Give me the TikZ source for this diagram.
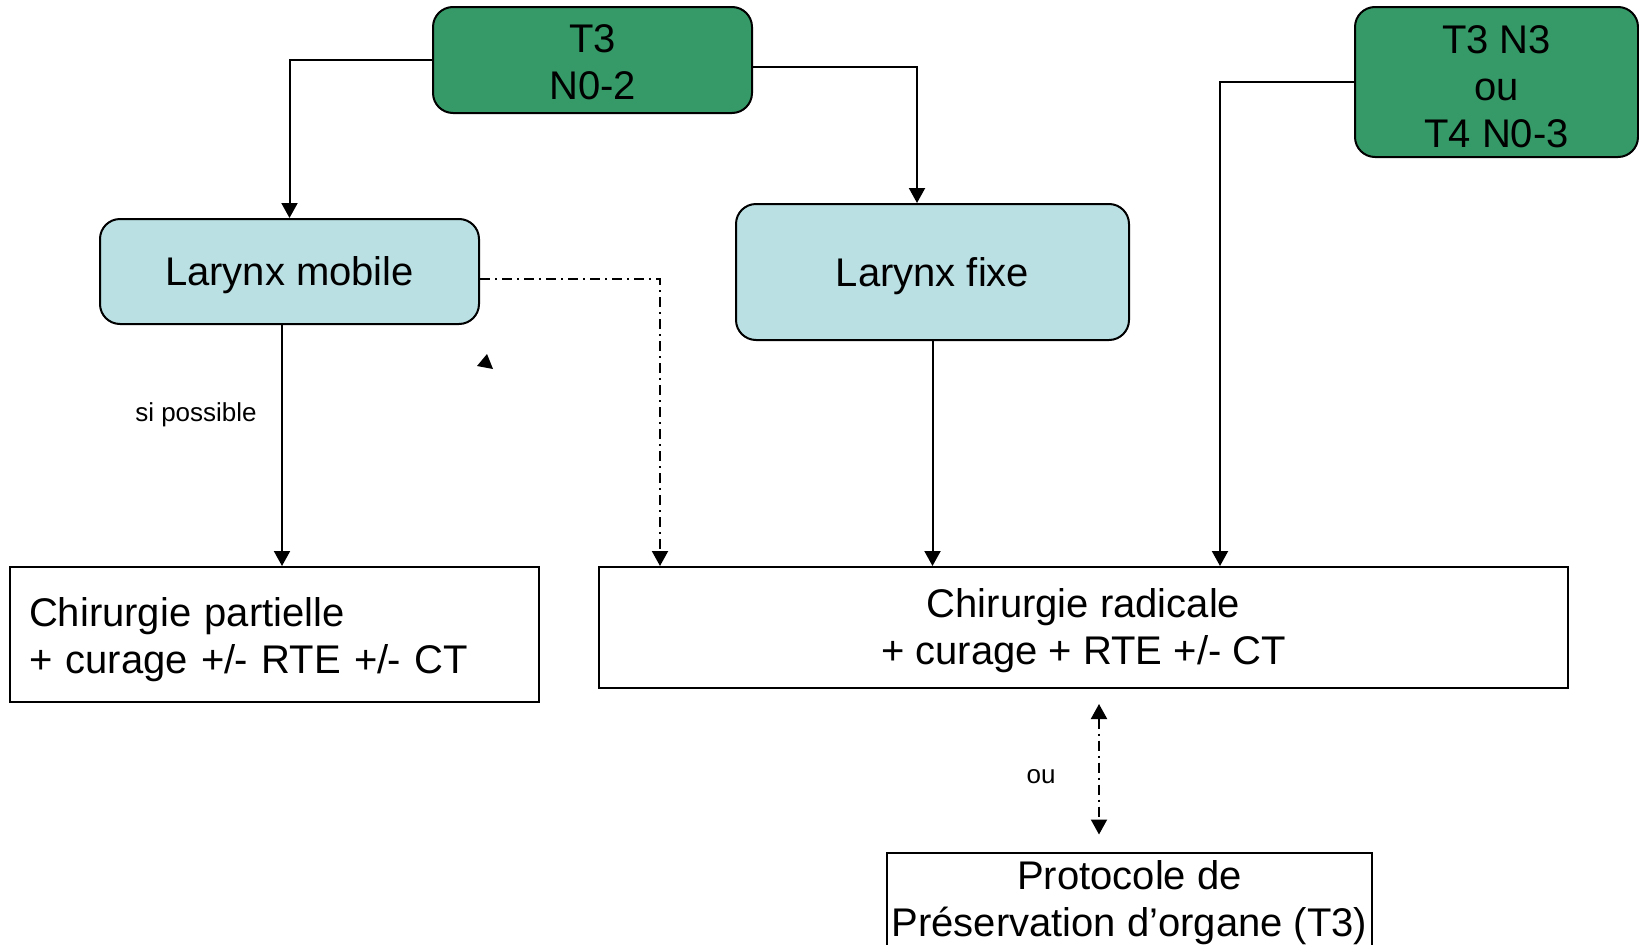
\documentclass[tikz,border=0pt]{standalone}
\usepackage{fontspec}
\setmainfont{Liberation Sans}
\usetikzlibrary{arrows.meta}
\definecolor{boxgreen}{RGB}{53,154,104}
\definecolor{boxblue}{RGB}{186,224,227}
\newcommand{\dnstrut}[1]{\rule{0pt}{#1}}
\tikzset{
  big/.style={font=\fontsize{40}{47}\selectfont},
  small/.style={font=\fontsize{26}{30}\selectfont},
  greenbox/.style={draw=black, line width=2pt, fill=boxgreen, rounded corners=20pt, align=center, big, inner sep=0pt},
  bluebox/.style={draw=black, line width=2pt, fill=boxblue, rounded corners=20pt, align=center, big, inner sep=0pt},
  plainbox/.style={draw=black, line width=2pt, fill=white, big, inner sep=0pt},
  conn/.style={draw=black, line width=2pt, -{Triangle[length=15pt,width=16pt]}},
  dashdot/.style={line width=2pt, dash pattern=on 10pt off 5pt on 2pt off 5pt}
}
\begin{document}
\begin{tikzpicture}[x=1pt,y=-1pt]
\useasboundingbox (0,0) rectangle (1639,945);
\clip (0,0) rectangle (1639,945);
\node[greenbox, minimum width=319pt, minimum height=106pt] (t3) at (592.5,60) {\dnstrut{33pt}T3\\N0-2};
\node[greenbox, minimum width=283pt, minimum height=150pt] (t4) at (1496.5,82) {\dnstrut{37pt}T3 N3\\ou\\T4 N0-3};
\node[bluebox, minimum width=379pt, minimum height=105pt] (lm) at (289.5,271.5) {\dnstrut{37pt}Larynx mobile};
\node[bluebox, minimum width=393pt, minimum height=136pt] (lf) at (932.5,272) {\dnstrut{37pt}Larynx fixe};
\node[plainbox, minimum width=529pt, minimum height=135pt, text width=491pt, inner xsep=19pt, align=left] (cp) at (274.5,634.5) {\dnstrut{39pt}Chirurgie partielle\\+ curage +/\kern-1pt- RTE +/\kern-1pt- CT};
\node[plainbox, minimum width=969pt, minimum height=121pt, align=center] (cr) at (1083.5,627.5) {\dnstrut{35pt}Chirurgie radicale\\+ curage + RTE +/- CT};
\node[plainbox, minimum width=485pt, minimum height=95pt, align=center] (pr) at (1129.5,900) {\dnstrut{35pt}Protocole de\\Préservation d’organe (T3)};

\draw[conn] (t3.west) -| (lm.north);
\draw[conn] ([yshift=-7pt]t3.east) -| ([xshift=-15.5pt]lf.north);
\draw[conn] (t4.west) -| ([xshift=136.5pt]cr.north);
\draw[conn] ([xshift=-7.5pt]lm.south) -- ([xshift=7.5pt]cp.north);
\draw[conn] (lf.south) -- ([xshift=-151pt]cr.north);
\draw[conn, dashdot] ([yshift=-7.5pt]lm.east) -| ([xshift=-423.5pt]cr.north);
\draw[dashdot, {Triangle[length=15pt,width=16pt]}-{Triangle[length=15pt,width=16pt]}] ([xshift=15.5pt,yshift=-15pt]cr.south) -- ([xshift=-30.5pt,yshift=17pt]pr.north);

\node[small] (sp) at (196,415) {si possible};
\node[small] (ou) at (1041,777) {ou};
\fill (487,354) -- (477,366) -- (493,369) -- cycle;
\end{tikzpicture}
\end{document}
